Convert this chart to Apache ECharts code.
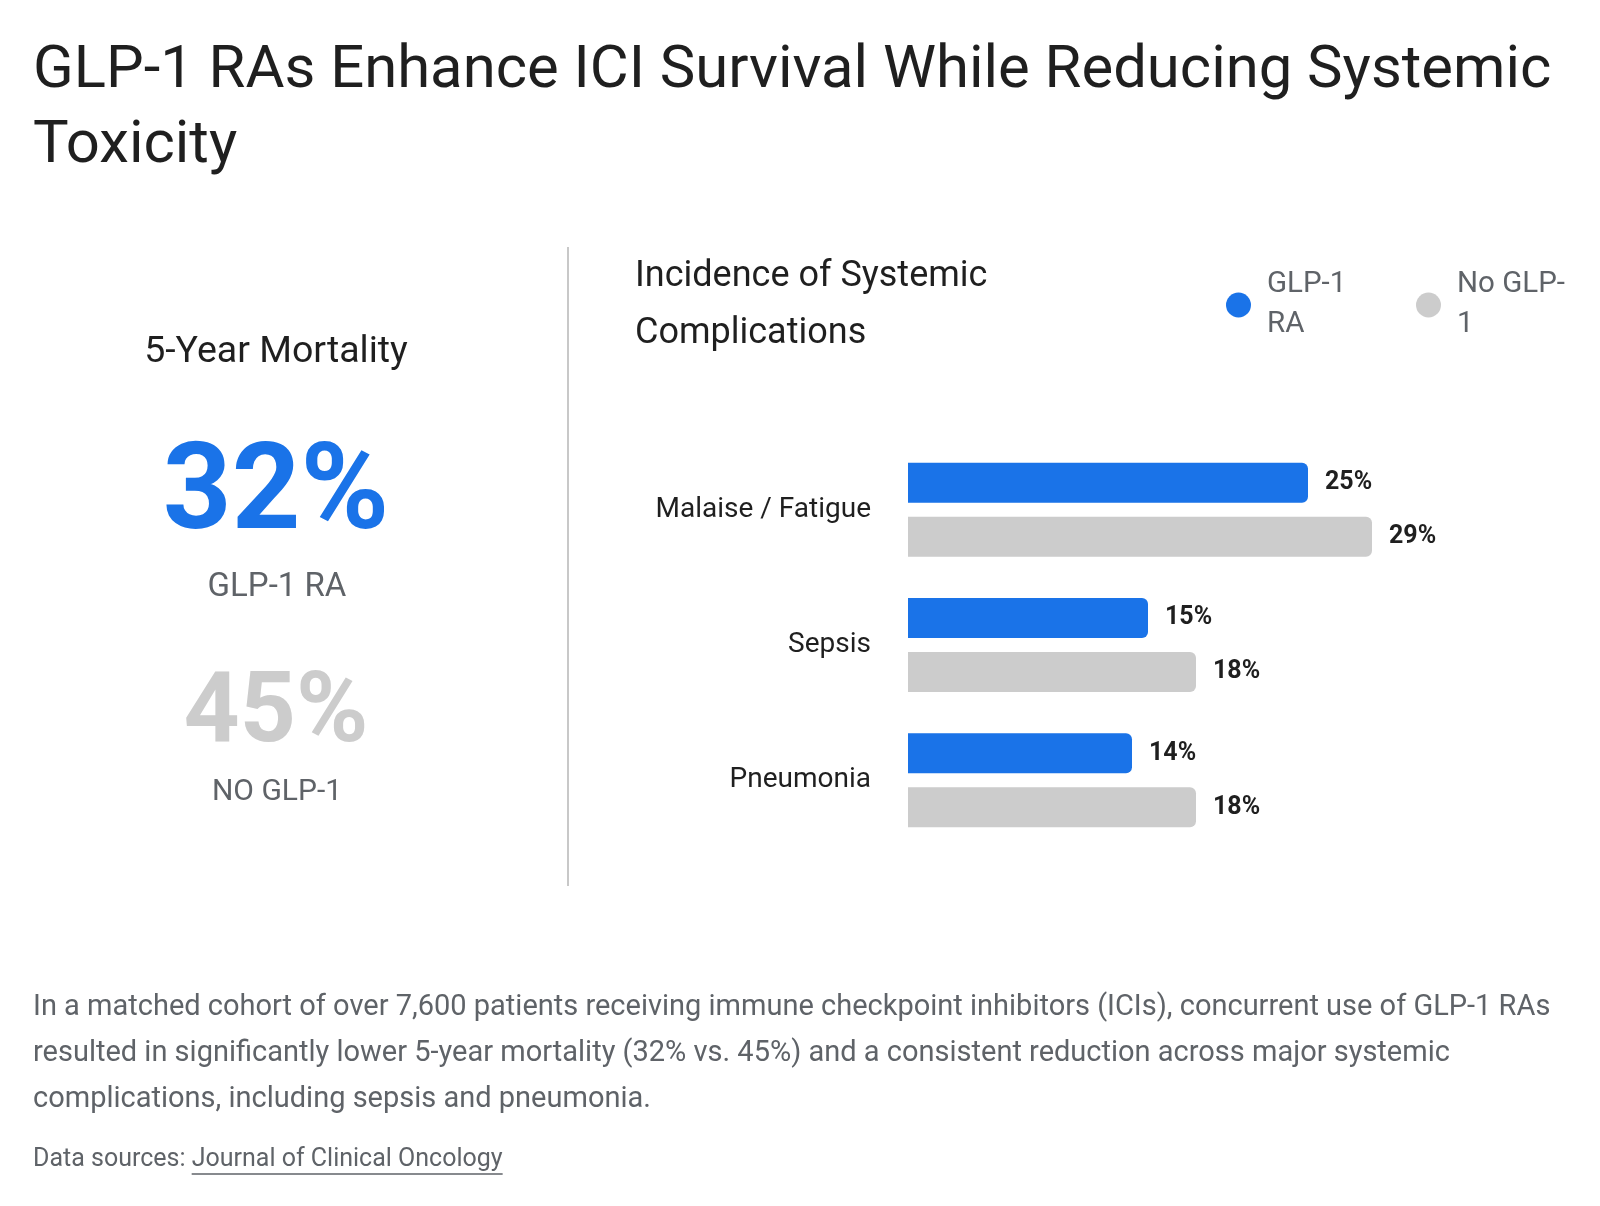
<!DOCTYPE html>
<html>
<head>
<meta charset="utf-8">
<script src="https://cdn.jsdelivr.net/npm/echarts@6/dist/echarts.min.js"></script>
<style>
  html, body { margin: 0; padding: 0; background: #fff; }
  #chart { width: 1600px; height: 1206px; }
</style>
</head>
<body>
<div id="chart"></div>
<script>
const categories = ['Malaise / Fatigue', 'Sepsis', 'Pneumonia'];
const glpValues = [25, 15, 14];
const noGlpValues = [29, 18, 18];
const seriesNames = ['GLP-1 RA', 'No GLP-1'];

const mortalityGlp = 32;
const mortalityNoGlp = 45;

const BLUE = '#1a73e8';
const GRAY = '#cccccc';
const DARK = '#1f1f1f';
const MUTED = '#5f6368';
const FONT = 'Roboto, "Noto Sans", sans-serif';

const chartDom = document.getElementById('chart');
const chart = echarts.init(chartDom);

const text = (x, y, str, size, color, extra) => ({
  type: 'text',
  x: x,
  y: y,
  style: Object.assign({
    text: str,
    fontSize: size,
    fontFamily: FONT,
    fill: color,
    textVerticalAlign: 'middle'
  }, extra || {})
});

const measure = (str, size) => {
  const t = new echarts.graphic.Text({style: {text: str, fontSize: size, fontFamily: FONT}});
  return t.getBoundingRect().width;
};

const paragraph = [
  'In a matched cohort of over 7,600 patients receiving immune checkpoint inhibitors (ICIs), concurrent use of GLP-1 RAs',
  'resulted in significantly lower 5-year mortality (32% vs. 45%) and a consistent reduction across major systemic',
  'complications, including sepsis and pneumonia.'
];
const sourceLead = 'Data sources:';
const sourceName = 'Journal of Clinical Oncology';
const sourceX = 33 + measure(sourceLead + ' ', 25);
const sourceW = measure(sourceName, 25);

const graphics = [
  text(33, 72, 'GLP-1 RAs Enhance ICI Survival While Reducing Systemic', 59.8, DARK),
  text(33, 147, 'Toxicity', 59.8, DARK),
  text(635, 277, 'Incidence of Systemic', 36, DARK),
  text(635, 334, 'Complications', 36, DARK),
  {type: 'line', shape: {x1: 568, y1: 247, x2: 568, y2: 886}, style: {stroke: '#c8c8c8', lineWidth: 2}},
  text(276, 353, '5-Year Mortality', 37.5, DARK, {textAlign: 'center'}),
  text(276, 498, mortalityGlp + '%', 120, BLUE, {textAlign: 'center', fontWeight: 'bold'}),
  text(277, 588, 'GLP-1 RA', 33, MUTED, {textAlign: 'center'}),
  text(276, 716, mortalityNoGlp + '%', 98, GRAY, {textAlign: 'center', fontWeight: 'bold'}),
  text(277, 792, 'NO GLP-1', 30, MUTED, {textAlign: 'center'}),
  text(33, 1008, paragraph[0], 29, MUTED),
  text(33, 1054, paragraph[1], 29, MUTED),
  text(33, 1100, paragraph[2], 29, MUTED),
  text(33, 1160, sourceLead, 25, MUTED),
  text(sourceX, 1160, sourceName, 25, MUTED),
  {type: 'line', shape: {x1: sourceX, y1: 1174, x2: sourceX + sourceW, y2: 1174}, style: {stroke: MUTED, lineWidth: 1.5}}
];

const legendBase = {
  orient: 'horizontal',
  top: 260,
  icon: 'circle',
  itemWidth: 25,
  itemHeight: 25,
  formatter: (name) => name === 'GLP-1 RA' ? 'GLP-1\nRA' : 'No GLP-\n1',
  textStyle: {fontSize: 29.5, lineHeight: 40, color: MUTED, fontFamily: FONT, padding: [0, 0, 0, 11]}
};

const option = {
  backgroundColor: '#ffffff',
  textStyle: {fontFamily: FONT},
  animation: false,
  legend: [
    Object.assign({}, legendBase, {left: 1221, data: [seriesNames[0]]}),
    Object.assign({}, legendBase, {left: 1411, data: [seriesNames[1]]})
  ],
  grid: {left: 908, right: 132, top: 442, bottom: 358, containLabel: false},
  xAxis: {
    type: 'value',
    min: 0,
    max: 35,
    show: false
  },
  yAxis: {
    type: 'category',
    data: categories,
    inverse: true,
    axisLine: {show: false},
    axisTick: {show: false},
    axisLabel: {fontSize: 28, color: DARK, margin: 37, fontFamily: FONT}
  },
  series: [
    {
      name: seriesNames[0],
      type: 'bar',
      data: glpValues,
      barWidth: 40,
      barGap: '35%',
      itemStyle: {color: BLUE, borderRadius: [0, 6, 6, 0]},
      label: {show: true, position: 'right', distance: 17, formatter: '{c}%', fontSize: 25, fontWeight: 'bold', color: DARK}
    },
    {
      name: seriesNames[1],
      type: 'bar',
      data: noGlpValues,
      barWidth: 40,
      itemStyle: {color: GRAY, borderRadius: [0, 6, 6, 0]},
      label: {show: true, position: 'right', distance: 17, formatter: '{c}%', fontSize: 25, fontWeight: 'bold', color: DARK}
    }
  ],
  graphic: graphics
};

chart.setOption(option);
</script>
</body>
</html>
